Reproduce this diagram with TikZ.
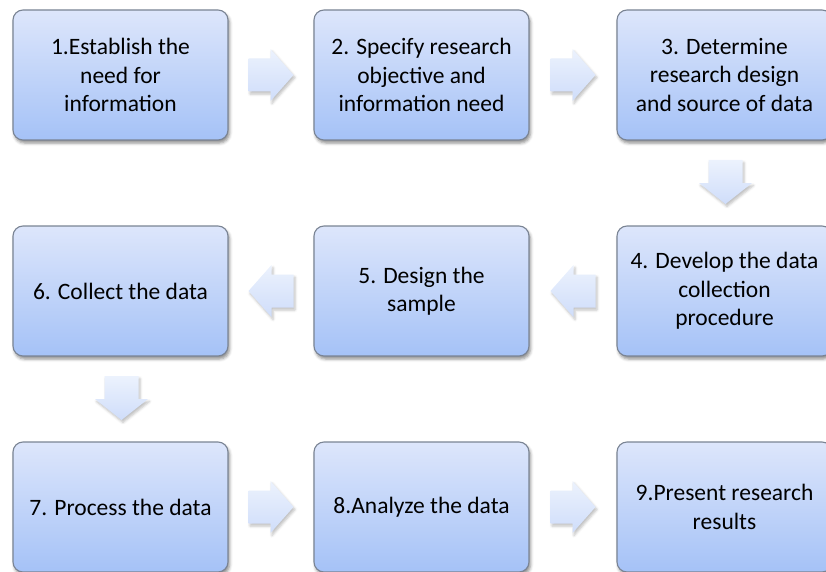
\documentclass[tikz,border=0pt]{standalone}
\usepackage{fontspec}
\setmainfont{Carlito}
\usetikzlibrary{shadows.blur,calc}
\definecolor{boxtop}{HTML}{DDE6FB}
\definecolor{boxbot}{HTML}{A5C2F7}
\definecolor{boxline}{HTML}{7A8494}
\definecolor{arrtop}{HTML}{ECF2FD}
\definecolor{arrbot}{HTML}{CFDDFA}
\begin{document}
\begin{tikzpicture}[x=1pt,y=-1pt,
  stepbox/.style={rectangle, rounded corners=10pt,
    minimum width=215pt, minimum height=130pt, inner sep=0pt,
    top color=boxtop, bottom color=boxbot,
    draw=boxline, line width=1.1pt,
    blur shadow={shadow xshift=1.5pt, shadow yshift=-3pt,
      shadow opacity=45, shadow blur radius=3pt},
    align=center, text=black, font=\fontsize{23.5}{28.5}\selectfont},
  flowarrow/.style={top color=arrtop, bottom color=arrbot,
    blur shadow={shadow xshift=1.5pt, shadow yshift=-2.5pt,
      shadow opacity=25, shadow blur radius=2.5pt}},
  rarrow/.pic={\path[flowarrow] (-22.5,-16.5) -- (-0.5,-16.5) -- (-0.5,-26)
      -- (22.5,0) -- (-0.5,26) -- (-0.5,16.5) -- (-22.5,16.5) -- cycle;},
  larrow/.pic={\path[flowarrow] (22.5,-16.5) -- (0.5,-16.5) -- (0.5,-26)
      -- (-22.5,0) -- (0.5,26) -- (0.5,16.5) -- (22.5,16.5) -- cycle;},
  darrow/.pic={\path[flowarrow] (-17,-22) -- (17,-22) -- (17,1) -- (26.5,1)
      -- (0,22) -- (-26.5,1) -- (-17,1) -- cycle;}
]
\useasboundingbox (0,0) rectangle (826,572);
\clip (0,0) rectangle (826,572);

% process steps
\node[stepbox] (b1) at (120.5,75)  {1.Establish the\\need for\\information};
\node[stepbox] (b2) at (421.5,75)  {2. Specify research\\objective and\\information need};
\node[stepbox] (b3) at (724.5,75)  {3. Determine\\research design\\and source of data};
\node[stepbox] (b4) at (724.5,291) {4. Develop the data\\collection\\procedure};
\node[stepbox] (b5) at (421.5,291) {5. Design the\\sample};
\node[stepbox] (b6) at (120.5,291) {6. Collect the data};
\node[stepbox] (b7) at (120.5,507) {7. Process the data};
\node[stepbox] (b8) at (421.5,507) {8.Analyze the data};
\node[stepbox] (b9) at (724.5,507) {9.Present research\\results};

% block arrows between consecutive steps
\pic at ($(b1.east)!0.5!(b2.west)$) {rarrow};
\pic at ($(b2.east)!0.5!(b3.west)$) {rarrow};
\pic at ($(b3.south)!0.5!(b4.north)+(1,-1)$) {darrow};
\pic at ($(b4.west)!0.5!(b5.east)$) {larrow};
\pic at ($(b5.west)!0.5!(b6.east)$) {larrow};
\pic at ($(b6.south)!0.5!(b7.north)+(1,-1)$) {darrow};
\pic at ($(b7.east)!0.5!(b8.west)$) {rarrow};
\pic at ($(b8.east)!0.5!(b9.west)$) {rarrow};
\end{tikzpicture}
\end{document}
